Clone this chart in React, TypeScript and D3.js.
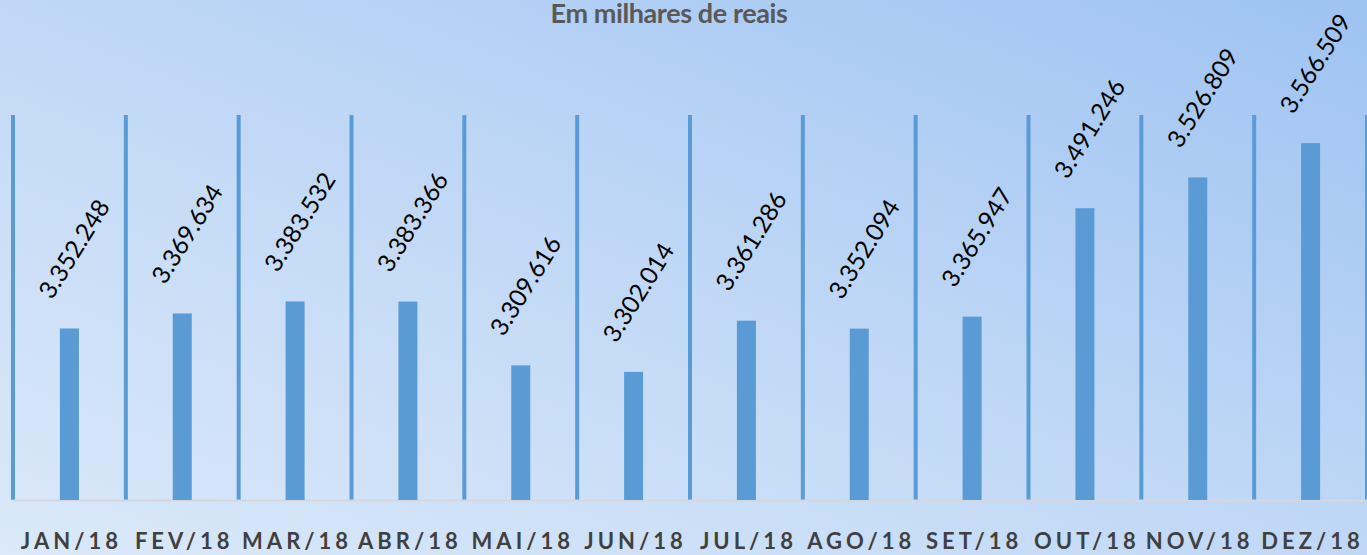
import React from "react";
import * as d3 from "d3";

const categories = ["JAN/18", "FEV/18", "MAR/18", "ABR/18", "MAI/18", "JUN/18", "JUL/18", "AGO/18", "SET/18", "OUT/18", "NOV/18", "DEZ/18"];
const values = [3352.248, 3369.634, 3383.532, 3383.366, 3309.616, 3302.014, 3361.286, 3352.094, 3365.947, 3491.246, 3526.809, 3566.509];
const axisMin = 3154;
const axisMax = 3599;
const title = "Em milhares de reais";

const W = 1367;
const H = 555;

const fmt = (v: number) => {
  const s = d3.format(",.3f")(v); // 3,352.248
  return s.replace(/,/g, "#").replace(/\./g, ",").replace(/#/g, ".").replace(",", ".");
};

export default function App() {
  const x = d3.scaleBand<string>().domain(categories).range([13, 1367]).paddingInner(0).paddingOuter(0);
  const y = d3.scaleLinear().domain([axisMin, axisMax]).range([500, 115]);
  const barW = 19;
  const gridXs = [...categories.map((c) => x(c) as number), 1367];

  return (
    <svg width={W} height={H} style={{ position: "absolute", left: 0, top: 0, display: "block" }}>
      <defs>
        <linearGradient id="bg" x1="0" y1="1" x2="1" y2="0">
          <stop offset="0%" stopColor="#dbe9f9" />
          <stop offset="50%" stopColor="#c0d8f6" />
          <stop offset="100%" stopColor="#9ec3f2" />
        </linearGradient>
      </defs>
      <rect x={0} y={0} width={W} height={H} fill="url(#bg)" />
      <text x={669} y={23} textAnchor="middle" fontFamily="Lato, 'Open Sans', sans-serif" fontWeight={700} fontSize={27} fill="#595959" letterSpacing={-0.4}>
        {title}
      </text>
      {gridXs.map((gx, i) => (
        <rect key={"g" + i} x={gx - 2} y={y(axisMax)} width={4} height={y(axisMin) - y(axisMax)} fill="#5b9bd5" />
      ))}
      <line x1={12} x2={W} y1={y(axisMin) + 0.5} y2={y(axisMin) + 0.5} stroke="#d4d8de" strokeWidth={2} />
      {categories.map((c, i) => {
        const cx = (x(c) as number) + x.bandwidth() / 2;
        const top = y(values[i]);
        return (
          <g key={c}>
            <rect x={cx - barW / 2} y={top} width={barW} height={y(axisMin) - top} fill="#5b9bd5" />
            <text
              transform={`translate(${cx + 4},${top - 80}) rotate(-58)`}
              textAnchor="middle"
              dominantBaseline="central"
              fontFamily="Lato, 'Open Sans', sans-serif"
              fontSize={24.5}
              fill="#000"
            >
              {fmt(values[i])}
            </text>
            <text
              x={cx + 2}
              y={549}
              textAnchor="middle"
              fontFamily="Lato, 'Open Sans', sans-serif"
              fontWeight={700}
              fontSize={22}
              letterSpacing={4}
              fill="#404040"
            >
              {c}
            </text>
          </g>
        );
      })}
    </svg>
  );
}
